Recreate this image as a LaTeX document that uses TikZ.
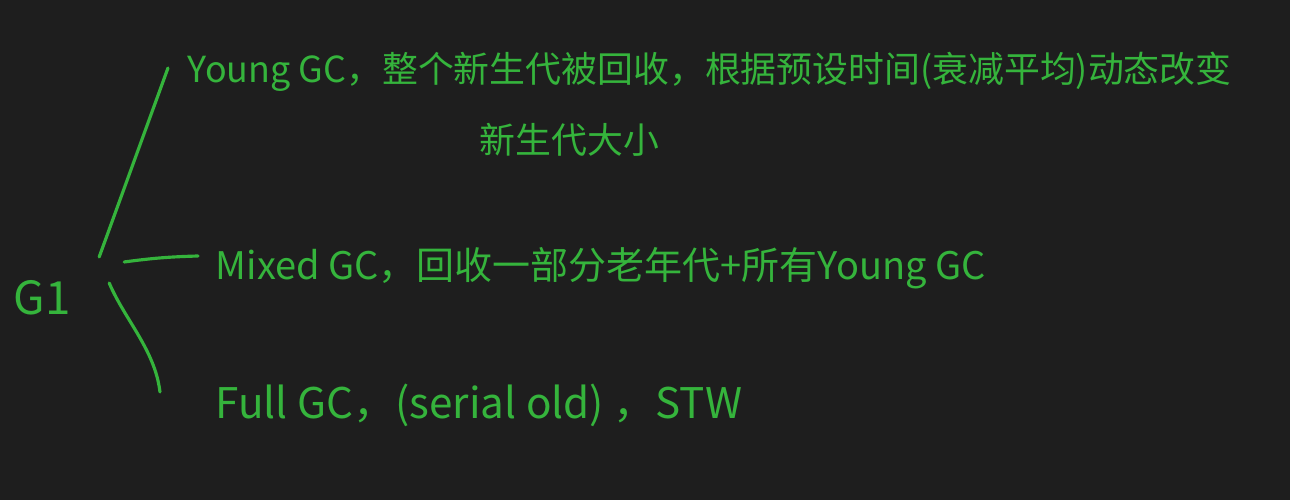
\documentclass[tikz,border=0pt]{standalone}
\usepackage{fontspec}
\setmainfont{Noto Sans CJK SC}
\usepackage{xcolor}
\usetikzlibrary{positioning}
\definecolor{board}{HTML}{1E1E1E}
\definecolor{chalk}{HTML}{35B43C}

\begin{document}
\begin{tikzpicture}[x=0.01cm, y=-0.01cm,
  every node/.style={font=\fontsize{10.8}{13}\selectfont, text=chalk, inner sep=2pt},
  note/.style={anchor=west},
  link/.style={draw=chalk, line width=0.9pt, line cap=round}]
  \useasboundingbox (0,0) rectangle (1290,500);
  \fill[board] (0,0) rectangle (1290,500);
  \node[font=\fontsize{13}{15}\selectfont] (g1) at (42,298) {G1};
  \node[note, font=\fontsize{10.2}{13}\selectfont] (young) at (180,72) {Young GC，整个新生代被回收，根据预设时间(衰减平均)动态改变};
  \node[note, font=\fontsize{10.2}{13}\selectfont] (youngmore) at (472,140) {新生代大小};
  \node[note] (mixed) at (208,268) {Mixed GC，回收一部分老年代+所有Young GC};
  \node[note, font=\fontsize{12}{14}\selectfont] (full) at (208,405) {Full GC，(serial old) ，STW};
  \draw[link] ([xshift=0.21cm, yshift=0.41cm]g1.east) -- ([xshift=-0.12cm, yshift=0.04cm]young.west);
  \draw[link] ([xshift=0.46cm, yshift=0.36cm]g1.east) to[bend left=3] ([xshift=-0.1cm, yshift=0.12cm]mixed.west);
  \draw[link] ([xshift=0.31cm, yshift=0.15cm]g1.east) .. controls (125,320) and (155,350) .. ([xshift=-0.48cm, yshift=0.13cm]full.west);
\end{tikzpicture}
\end{document}
